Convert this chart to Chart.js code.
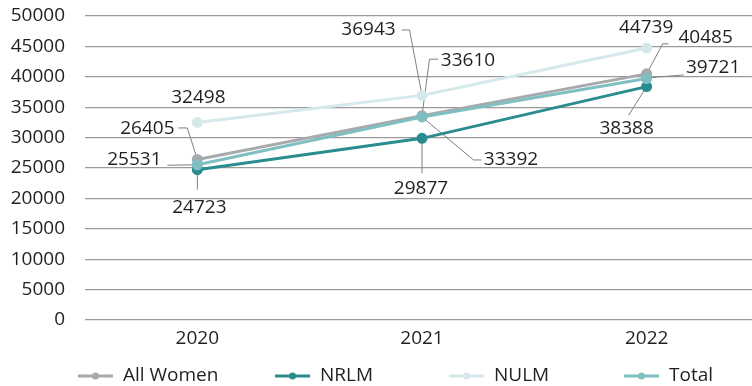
<!DOCTYPE html>
<html>
<head>
<meta charset="utf-8">
<script src="https://cdn.jsdelivr.net/npm/chart.js@4"></script>
<style>
  html, body { margin: 0; padding: 0; background: #fff; overflow: hidden; width: 752px; height: 386px; }
  #frame { width: 752px; height: 386px; overflow: hidden; position: relative; }
  #c { display: block; position: absolute; left: 0; top: 0; }
</style>
</head>
<body>
<div id="frame"><canvas id="c" width="766" height="386"></canvas></div>
<script>
// Years and series values
const years = ['2020', '2021', '2022'];
const allWomen = [26405, 33610, 40485];
const nrlm = [24723, 29877, 38388];
const nulm = [32498, 36943, 44739];
const total = [25531, 33392, 39721];
const yTicks = [0, 5000, 10000, 15000, 20000, 25000, 30000, 35000, 40000, 45000, 50000];

const FONT = '"Open Sans", "Noto Sans", sans-serif';
const TEXT = '#231f20';

// Where each value label sits relative to its point, and the leader line path (relative px)
const labelPlacement = {
  0: [ // All Women
    { dx: -50, dy: -31, path: [[-19, -31.5], [-10, -31.5], [0, 0]] },
    { dx: 46, dy: -55.5, path: [[16, -56.5], [7.5, -56.5], [0, 0]] },
    { dx: 59, dy: -36, path: [[22, -30], [16, -30], [0, 0]] }
  ],
  1: [ // NRLM
    { dx: 2, dy: 38, path: [[0, 0], [0, 20]] },
    { dx: -1, dy: 50, path: [[0, 0], [0, 35]] },
    { dx: -20, dy: 41.5, path: [[0, 0], [-18, 28.5]] }
  ],
  2: [ // NULM
    { dx: 1, dy: -25, path: null },
    { dx: -53.5, dy: -65.5, path: [[-20.5, -65.4], [-12.5, -65.4], [0, 0]] },
    { dx: -0.5, dy: -20, path: null }
  ],
  3: [ // Total
    { dx: -63, dy: -5, path: [[-30, 0.5], [0, 0]] },
    { dx: 89, dy: 43, path: [[0, 0], [51.5, 43], [59.5, 43]] },
    { dx: 66.5, dy: -10.5, path: [[37, -3.5], [11, -1.5], [0, 0]] }
  ]
};

// Left edge of each legend entry
const legendStarts = [78, 275, 449, 624];

const valueLabels = {
  id: 'valueLabels',
  beforeDatasetsDraw(chart) {
    const ctx = chart.ctx;
    ctx.save();
    ctx.strokeStyle = '#7f7f7f';
    ctx.lineWidth = 1;
    chart.data.datasets.forEach((ds, di) => {
      const meta = chart.getDatasetMeta(di);
      meta.data.forEach((pt, i) => {
        const p = labelPlacement[di][i];
        if (!p.path) return;
        ctx.beginPath();
        p.path.forEach(([dx, dy], k) => {
          const x = pt.x + dx, y = pt.y + dy;
          if (k === 0) ctx.moveTo(x, y); else ctx.lineTo(x, y);
        });
        ctx.stroke();
      });
    });
    ctx.restore();
  },
  afterDatasetsDraw(chart) {
    const ctx = chart.ctx;
    ctx.save();
    ctx.font = '19px ' + FONT;
    ctx.fillStyle = TEXT;
    ctx.textAlign = 'center';
    ctx.textBaseline = 'middle';
    chart.data.datasets.forEach((ds, di) => {
      const meta = chart.getDatasetMeta(di);
      meta.data.forEach((pt, i) => {
        const p = labelPlacement[di][i];
        ctx.fillText(String(ds.data[i]), pt.x + p.dx, pt.y + p.dy);
      });
    });
    ctx.restore();
  },
  afterDraw(chart) {
    const ctx = chart.ctx;
    const y = 376;
    ctx.save();
    ctx.font = '19px ' + FONT;
    ctx.textBaseline = 'middle';
    ctx.textAlign = 'left';
    chart.data.datasets.forEach((ds, di) => {
      const x0 = legendStarts[di];
      ctx.strokeStyle = ds.borderColor;
      ctx.lineWidth = 3;
      ctx.beginPath();
      ctx.moveTo(x0, y);
      ctx.lineTo(x0 + 35, y);
      ctx.stroke();
      ctx.fillStyle = ds.borderColor;
      ctx.beginPath();
      ctx.arc(x0 + 17.5, y, 3.5, 0, Math.PI * 2);
      ctx.fill();
      ctx.fillStyle = TEXT;
      ctx.fillText(ds.label, x0 + 45, y);
    });
    ctx.restore();
  }
};

function series(label, data, color, order) {
  return {
    label, data, order,
    borderColor: color,
    backgroundColor: color,
    pointBackgroundColor: color,
    pointBorderColor: color,
    borderWidth: 3,
    pointRadius: 4,
    pointHoverRadius: 4,
    tension: 0,
    fill: false
  };
}

new Chart(document.getElementById('c'), {
  type: 'line',
  data: {
    labels: years,
    datasets: [
      series('All Women', allWomen, '#a7a9ac', 2),
      series('NRLM', nrlm, '#2a8c8f', 1),
      series('NULM', nulm, '#d5e9eb', 3),
      series('Total', total, '#7fbfc1', 0)
    ]
  },
  options: {
    responsive: false,
    devicePixelRatio: 1,
    animation: false,
    events: [],
    layout: { padding: { top: 16, right: 0, bottom: 0, left: 0 } },
    plugins: {
      legend: { display: false },
      tooltip: { enabled: false }
    },
    scales: {
      x: {
        offset: true,
        grid: { display: false, drawTicks: false },
        border: { display: false },
        ticks: { color: TEXT, font: { family: FONT, size: 19 }, padding: 7 },
        afterFit(scale) { scale.height = 66; }
      },
      y: {
        min: 0,
        max: 50000,
        afterBuildTicks(scale) { scale.ticks = yTicks.map(v => ({ value: v })); },
        grid: { color: '#9a9a9a', lineWidth: 1.2, drawTicks: true, tickLength: 17, tickColor: 'rgba(0,0,0,0)' },
        border: { display: false },
        ticks: {
          color: TEXT, font: { family: FONT, size: 19 }, padding: 3,
          callback: (v) => String(v)
        },
        afterFit(scale) { scale.width = 85; }
      }
    }
  },
  plugins: [valueLabels]
});
</script>
</body>
</html>
